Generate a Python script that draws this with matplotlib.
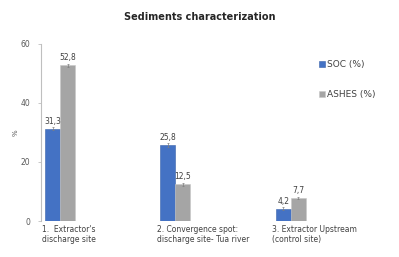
import numpy as np
import matplotlib.pyplot as plt

# datos
sitios = ["1.  Extractor's\ndischarge site",
          "2. Convergence spot:\ndischarge site- Tua river",
          "3. Extractor Upstream\n(control site)"]
soc = [31.3, 25.8, 4.2]
cenizas = [52.8, 12.5, 7.7]
err_soc = [0.6, 0.6, 0.4]
err_cen = [0.5, 0.5, 0.4]

fig = plt.figure(figsize=(3.99, 2.57), dpi=100)
ax = fig.add_axes([0.103, 0.14, 0.724, 0.689])

x = np.arange(len(sitios))
w = 0.13
ekw = dict(elinewidth=0.5, ecolor="#7f7f7f", capsize=1, capthick=0.5)
b1 = ax.bar(x - w / 2, soc, w, color="#4472C4", edgecolor="#3a62ab", linewidth=0.4,
            yerr=err_soc, error_kw=ekw, label="SOC (%)")
b2 = ax.bar(x + w / 2, cenizas, w, color="#A5A5A5", edgecolor="#c8c8c8", linewidth=0.4,
            yerr=err_cen, error_kw=ekw, label="ASHES (%)")

for i in range(len(x)):
    ax.text(x[i] - w / 2, soc[i] + 1.0, f"{soc[i]:.1f}".replace(".", ","),
            ha="center", va="bottom", fontsize=5.5, color="#404040")
    ax.text(x[i] + w / 2, cenizas[i] + 1.0, f"{cenizas[i]:.1f}".replace(".", ","),
            ha="center", va="bottom", fontsize=5.5, color="#404040")
    ax.text(x[i] - w - 0.03, -1.5, sitios[i], ha="left", va="top",
            fontsize=5.5, color="#404040", linespacing=1.1)

ax.set_xlim(-0.165, 2.34)
ax.set_ylim(0, 60)
ax.set_yticks([0, 20, 40, 60])
ax.set_xticks([])
ax.tick_params(axis="y", labelsize=5.5, labelcolor="#595959", color="#bfbfbf",
               length=2, width=0.6, pad=6)
for s in ["top", "right", "bottom"]:
    ax.spines[s].set_visible(False)
ax.spines["left"].set_color("#bfbfbf")
ax.spines["left"].set_linewidth(0.8)
ax.set_ylabel("%", fontsize=5, color="#595959", labelpad=1)

fig.text(0.5, 0.935, "Sediments characterization", ha="center", va="center",
         fontsize=7, fontweight="bold", color="#262626")

leg = fig.legend(handles=[b1, b2], labels=["SOC (%)", "ASHES (%)"],
                 loc="upper left", bbox_to_anchor=(0.78, 0.797), frameon=False,
                 fontsize=6.5, handlelength=0.6, handleheight=0.6, handletextpad=0.3,
                 labelspacing=2.3, labelcolor="#404040")

plt.savefig("out.png", dpi=100)
